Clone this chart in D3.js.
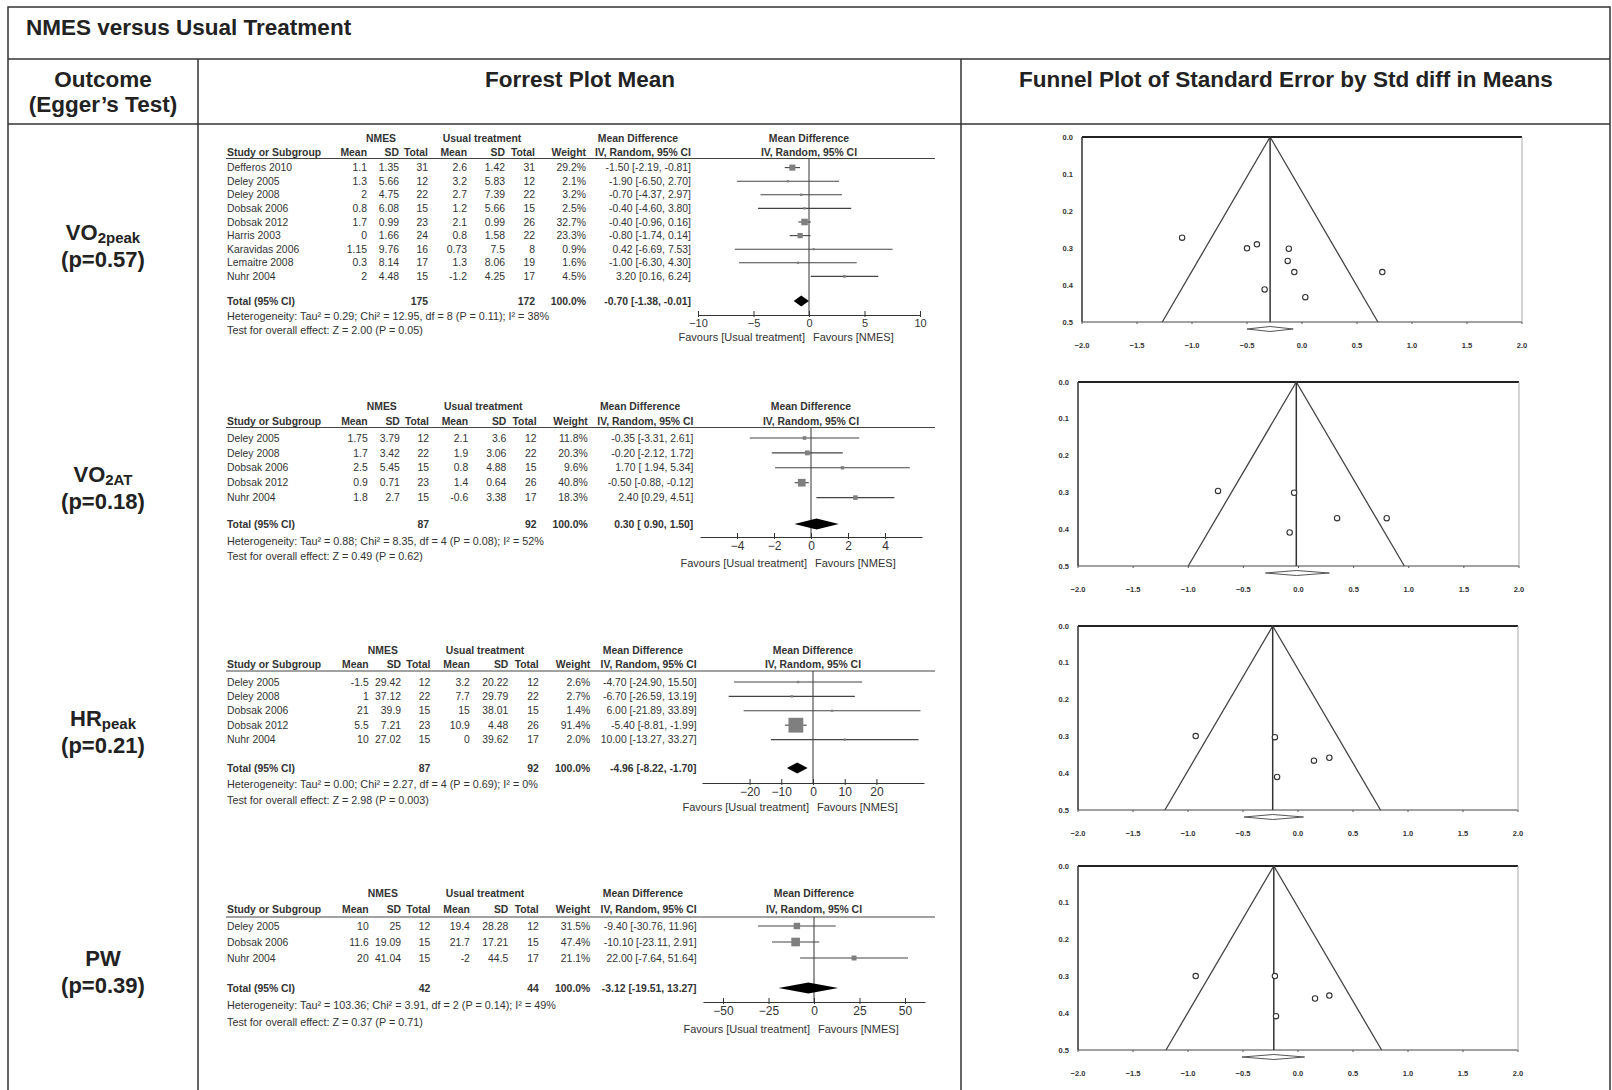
<!DOCTYPE html>
<html>
<head>
<meta charset="utf-8">
<title>NMES versus Usual Treatment</title>
<script src="https://cdn.jsdelivr.net/npm/d3@7"></script>
<style>
  body { margin: 0; background: #fff; }
  svg { display: block; font-family: "Liberation Sans", Arial, sans-serif; }
</style>
</head>
<body>
<div id="chart"></div>
<script>
// ---- values ----

const outcomeNames = ["VO", "VO", "HR", "PW"];
const outcomeSubs = ["2peak", "2AT", "peak", ""];
const eggerLabels = ["(p=0.57)", "(p=0.18)", "(p=0.21)", "(p=0.39)"];

// VO2peak
const vo2peakStudies = ["Defferos 2010", "Deley 2005", "Deley 2008", "Dobsak 2006", "Dobsak 2012", "Harris 2003", "Karavidas 2006", "Lemaitre 2008", "Nuhr 2004"];
// NMES mean, SD, total | usual mean, SD, total
const vo2peakRows = [
  [1.1, 1.35, 31, 2.6, 1.42, 31],
  [1.3, 5.66, 12, 3.2, 5.83, 12],
  [2, 4.75, 22, 2.7, 7.39, 22],
  [0.8, 6.08, 15, 1.2, 5.66, 15],
  [1.7, 0.99, 23, 2.1, 0.99, 26],
  [0, 1.66, 24, 0.8, 1.58, 22],
  [1.15, 9.76, 16, 0.73, 7.5, 8],
  [0.3, 8.14, 17, 1.3, 8.06, 19],
  [2, 4.48, 15, -1.2, 4.25, 17]
];
const vo2peakWeight = [29.2, 2.1, 3.2, 2.5, 32.7, 23.3, 0.9, 1.6, 4.5];
const vo2peakMD = [-1.50, -1.90, -0.70, -0.40, -0.40, -0.80, 0.42, -1.00, 3.20];
const vo2peakLow = [-2.19, -6.50, -4.37, -4.60, -0.96, -1.74, -6.69, -6.30, 0.16];
const vo2peakHigh = [-0.81, 2.70, 2.97, 3.80, 0.16, 0.14, 7.53, 4.30, 6.24];
const vo2peakCI = ["-1.50 [-2.19, -0.81]", "-1.90 [-6.50, 2.70]", "-0.70 [-4.37, 2.97]", "-0.40 [-4.60, 3.80]", "-0.40 [-0.96, 0.16]", "-0.80 [-1.74, 0.14]", "0.42 [-6.69, 7.53]", "-1.00 [-6.30, 4.30]", "3.20 [0.16, 6.24]"];
const vo2peakTotal = [175, 172, -0.70, -1.38, -0.01];
const vo2peakTotalCI = "-0.70 [-1.38, -0.01]";
const vo2peakHet = "Heterogeneity: Tau² = 0.29; Chi² = 12.95, df = 8 (P = 0.11); I² = 38%";
const vo2peakTest = "Test for overall effect: Z = 2.00 (P = 0.05)";
const vo2peakTicks = [-10, -5, 0, 5, 10];

// VO2AT
const vo2atStudies = ["Deley 2005", "Deley 2008", "Dobsak 2006", "Dobsak 2012", "Nuhr 2004"];
const vo2atRows = [
  [1.75, 3.79, 12, 2.1, 3.6, 12],
  [1.7, 3.42, 22, 1.9, 3.06, 22],
  [2.5, 5.45, 15, 0.8, 4.88, 15],
  [0.9, 0.71, 23, 1.4, 0.64, 26],
  [1.8, 2.7, 15, -0.6, 3.38, 17]
];
const vo2atWeight = [11.8, 20.3, 9.6, 40.8, 18.3];
const vo2atMD = [-0.35, -0.20, 1.70, -0.50, 2.40];
const vo2atLow = [-3.31, -2.12, -1.94, -0.88, 0.29];
const vo2atHigh = [2.61, 1.72, 5.34, -0.12, 4.51];
const vo2atCI = ["-0.35 [-3.31, 2.61]", "-0.20 [-2.12, 1.72]", "1.70 [ 1.94, 5.34]", "-0.50 [-0.88, -0.12]", "2.40 [0.29, 4.51]"];
const vo2atTotal = [87, 92, 0.30, -0.90, 1.50];
const vo2atTotalCI = "0.30 [ 0.90, 1.50]";
const vo2atHet = "Heterogeneity: Tau² = 0.88; Chi² = 8.35, df = 4 (P = 0.08); I² = 52%";
const vo2atTest = "Test for overall effect: Z = 0.49 (P = 0.62)";
const vo2atTicks = [-4, -2, 0, 2, 4];

// HRpeak
const hrpeakStudies = ["Deley 2005", "Deley 2008", "Dobsak 2006", "Dobsak 2012", "Nuhr 2004"];
const hrpeakRows = [
  [-1.5, 29.42, 12, 3.2, 20.22, 12],
  [1, 37.12, 22, 7.7, 29.79, 22],
  [21, 39.9, 15, 15, 38.01, 15],
  [5.5, 7.21, 23, 10.9, 4.48, 26],
  [10, 27.02, 15, 0, 39.62, 17]
];
const hrpeakWeight = [2.6, 2.7, 1.4, 91.4, 2.0];
const hrpeakMD = [-4.70, -6.70, 6.00, -5.40, 10.00];
const hrpeakLow = [-24.90, -26.59, -21.89, -8.81, -13.27];
const hrpeakHigh = [15.50, 13.19, 33.89, -1.99, 33.27];
const hrpeakCI = ["-4.70 [-24.90, 15.50]", "-6.70 [-26.59, 13.19]", "6.00 [-21.89, 33.89]", "-5.40 [-8.81, -1.99]", "10.00 [-13.27, 33.27]"];
const hrpeakTotal = [87, 92, -4.96, -8.22, -1.70];
const hrpeakTotalCI = "-4.96 [-8.22, -1.70]";
const hrpeakHet = "Heterogeneity: Tau² = 0.00; Chi² = 2.27, df = 4 (P = 0.69); I² = 0%";
const hrpeakTest = "Test for overall effect: Z = 2.98 (P = 0.003)";
const hrpeakTicks = [-20, -10, 0, 10, 20];

// PW
const pwStudies = ["Deley 2005", "Dobsak 2006", "Nuhr 2004"];
const pwRows = [
  [10, 25, 12, 19.4, 28.28, 12],
  [11.6, 19.09, 15, 21.7, 17.21, 15],
  [20, 41.04, 15, -2, 44.5, 17]
];
const pwWeight = [31.5, 47.4, 21.1];
const pwMD = [-9.40, -10.10, 22.00];
const pwLow = [-30.76, -23.11, -7.64];
const pwHigh = [11.96, 2.91, 51.64];
const pwCI = ["-9.40 [-30.76, 11.96]", "-10.10 [-23.11, 2.91]", "22.00 [-7.64, 51.64]"];
const pwTotal = [42, 44, -3.12, -19.51, 13.27];
const pwTotalCI = "-3.12 [-19.51, 13.27]";
const pwHet = "Heterogeneity: Tau² = 103.36; Chi² = 3.91, df = 2 (P = 0.14); I² = 49%";
const pwTest = "Test for overall effect: Z = 0.37 (P = 0.71)";
const pwTicks = [-50, -25, 0, 25, 50];

// funnel plots: std diff in means, standard error, pooled [estimate, low, high]
const vo2peakSMD = [-1.09, -0.50, -0.41, -0.12, -0.13, -0.07, 0.73, -0.34, 0.03];
const vo2peakSE = [0.272, 0.301, 0.290, 0.302, 0.335, 0.365, 0.365, 0.412, 0.433];
const vo2peakPooled = [-0.29, -0.50, -0.08];
const vo2atSMD = [-0.73, -0.04, 0.35, 0.80, -0.08];
const vo2atSE = [0.296, 0.301, 0.370, 0.370, 0.409];
const vo2atPooled = [-0.02, -0.30, 0.28];
const hrpeakSMD = [-0.93, -0.21, 0.145, 0.285, -0.19];
const hrpeakSE = [0.299, 0.302, 0.366, 0.358, 0.41];
const hrpeakPooled = [-0.23, -0.49, 0.05];
const pwSMD = [-0.93, -0.21, 0.155, 0.285, -0.20];
const pwSE = [0.299, 0.299, 0.36, 0.352, 0.408];
const pwPooled = [-0.22, -0.51, 0.06];

const funnelXTicks = [-2, -1.5, -1, -0.5, 0, 0.5, 1, 1.5, 2];
const funnelYTicks = [0, 0.1, 0.2, 0.3, 0.4, 0.5];

// ---- layout ----
const W = 1612, H = 1090;
const svg = d3.select("#chart").append("svg")
    .attr("width", W)
    .attr("height", H);

const ink = "#222";

// table grid
const grid = svg.append("g").attr("stroke", "#333").attr("stroke-width", 1.5).attr("fill", "none");
grid.append("rect").attr("x", 8).attr("y", 7).attr("width", 1602).attr("height", 1100);
grid.append("line").attr("x1", 8).attr("x2", 1610).attr("y1", 59).attr("y2", 59);
grid.append("line").attr("x1", 8).attr("x2", 1610).attr("y1", 124).attr("y2", 124);
grid.append("line").attr("x1", 198).attr("x2", 198).attr("y1", 59).attr("y2", H);
grid.append("line").attr("x1", 961).attr("x2", 961).attr("y1", 59).attr("y2", H);

function bigText(x, y, str, anchor) {
    return svg.append("text")
        .attr("x", x).attr("y", y)
        .attr("dy", "0.35em")
        .attr("text-anchor", anchor || "middle")
        .style("font-size", "22.5px")
        .style("font-weight", "bold")
        .style("fill", ink)
        .text(str);
}

bigText(26, 27, "NMES versus Usual Treatment", "start");
bigText(103, 79, "Outcome");
bigText(103, 104, "(Egger’s Test)");
bigText(580, 79, "Forrest Plot Mean");
bigText(1286, 79, "Funnel Plot of Standard Error by Std diff in Means");

// outcome labels
const outcomeY = [234, 476, 720, 960];
outcomeNames.forEach((name, i) => {
    const t = bigText(103, outcomeY[i] - 2, null).style("font-size", "22px");
    t.append("tspan").text(name);
    if (outcomeSubs[i]) {
        t.append("tspan")
            .attr("dy", "0.2em")
            .style("font-size", "15px")
            .text(outcomeSubs[i]);
    }
    bigText(103, outcomeY[i] + 25, eggerLabels[i]).style("font-size", "22px");
});

// ---- forest plots ----
const forests = [
    {studies: vo2peakStudies, rows: vo2peakRows, weight: vo2peakWeight, md: vo2peakMD, low: vo2peakLow, high: vo2peakHigh,
     ci: vo2peakCI, total: vo2peakTotal, totalCI: vo2peakTotalCI, het: vo2peakHet, test: vo2peakTest, ticks: vo2peakTicks,
     group: 138, line: 158.5, row0: 167.6, step: 13.6, totalY: 301, hetY: 316.6, testY: 330, axisY: 315, favY: 337,
     tickFont: 11, zero: 809, dom: 10, sx: 1},
    {studies: vo2atStudies, rows: vo2atRows, weight: vo2atWeight, md: vo2atMD, low: vo2atLow, high: vo2atHigh,
     ci: vo2atCI, total: vo2atTotal, totalCI: vo2atTotalCI, het: vo2atHet, test: vo2atTest, ticks: vo2atTicks,
     group: 406, line: 427.5, row0: 438, step: 14.9, totalY: 524, hetY: 541, testY: 556, axisY: 537, favY: 563,
     tickFont: 12, zero: 811, dom: 6, sx: 1.005},
    {studies: hrpeakStudies, rows: hrpeakRows, weight: hrpeakWeight, md: hrpeakMD, low: hrpeakLow, high: hrpeakHigh,
     ci: hrpeakCI, total: hrpeakTotal, totalCI: hrpeakTotalCI, het: hrpeakHet, test: hrpeakTest, ticks: hrpeakTicks,
     group: 650, line: 671, row0: 682, step: 14.4, totalY: 768, hetY: 784, testY: 800, axisY: 783, favY: 807,
     tickFont: 12, zero: 813, dom: 35, sx: 1.012},
    {studies: pwStudies, rows: pwRows, weight: pwWeight, md: pwMD, low: pwLow, high: pwHigh,
     ci: pwCI, total: pwTotal, totalCI: pwTotalCI, het: pwHet, test: pwTest, ticks: pwTicks,
     group: 893, line: 917, row0: 926, step: 16, totalY: 988, hetY: 1005, testY: 1022, axisY: 1002, favY: 1029,
     tickFont: 12, zero: 814, dom: 61, sx: 1.012}
];

// right edges of the numeric columns (NMES mean, SD, total, usual mean, SD, total, weight)
const colRight = [367, 399, 428, 467, 505, 535, 586];
const ciRight = 691;
const colHeads = ["Mean", "SD", "Total", "Mean", "SD", "Total", "Weight"];

const squareSize = d3.scaleLinear().domain([0, 100]).range([2, 16]);

function drawForest(p) {
    const g = svg.append("g").style("font-size", "10.4px").style("fill", "#333");
    const X = v => 227 + (v - 227) * p.sx;
    const x = d3.scaleLinear().domain([-p.dom, p.dom]).range([p.zero - 111, p.zero + 111]);
    const rowY = i => p.row0 + i * p.step;

    function txt(xx, yy, str, anchor, bold) {
        return g.append("text")
            .attr("x", xx).attr("y", yy).attr("dy", "0.35em")
            .attr("text-anchor", anchor)
            .style("font-weight", bold ? "bold" : "normal")
            .text(str);
    }

    const subY = p.group + (p.line - p.group) * 0.7;
    // headers
    txt(X(381), p.group, "NMES", "middle", true);
    txt(X(482), p.group, "Usual treatment", "middle", true);
    txt(X(638), p.group, "Mean Difference", "middle", true);
    txt(p.zero, p.group, "Mean Difference", "middle", true);
    txt(X(227), subY, "Study or Subgroup", "start", true);
    colHeads.forEach((h, j) => txt(X(colRight[j]), subY, h, "end", true));
    txt(X(ciRight), subY, "IV, Random, 95% CI", "end", true);
    txt(p.zero, subY, "IV, Random, 95% CI", "middle", true);

    g.append("line")
        .attr("x1", X(226)).attr("x2", 935)
        .attr("y1", p.line).attr("y2", p.line)
        .attr("stroke", "#444").attr("stroke-width", 1);

    // study rows
    p.studies.forEach((s, i) => {
        const y = rowY(i);
        txt(X(227), y, s, "start", false);
        p.rows[i].forEach((v, j) => txt(X(colRight[j]), y, String(v), "end", false));
        txt(X(colRight[6]), y, d3.format(".1f")(p.weight[i]) + "%", "end", false);
        txt(X(ciRight), y, p.ci[i], "end", false);
    });

    // total row
    txt(X(227), p.totalY, "Total (95% CI)", "start", true);
    txt(X(colRight[2]), p.totalY, p.total[0], "end", true);
    txt(X(colRight[5]), p.totalY, p.total[1], "end", true);
    txt(X(colRight[6]), p.totalY, "100.0%", "end", true);
    txt(X(ciRight), p.totalY, p.totalCI, "end", true);
    txt(X(227), p.hetY, p.het, "start", false).style("font-size", "10.8px");
    txt(X(227), p.testY, p.test, "start", false).style("font-size", "10.8px");

    // zero line
    g.append("line")
        .attr("x1", x(0)).attr("x2", x(0))
        .attr("y1", p.line).attr("y2", p.axisY)
        .attr("stroke", "#333");

    // confidence intervals and weighted squares
    const marks = g.append("g");
    p.studies.forEach((s, i) => {
        const y = rowY(i);
        marks.append("line")
            .attr("x1", x(p.low[i])).attr("x2", x(p.high[i]))
            .attr("y1", y).attr("y2", y)
            .attr("stroke", "#444").attr("stroke-width", 1.1);
        const sz = squareSize(p.weight[i]);
        marks.append("rect")
            .attr("x", x(p.md[i]) - sz / 2).attr("y", y - sz / 2)
            .attr("width", sz).attr("height", sz)
            .attr("fill", "#7f7f7f");
    });

    // pooled diamond
    const t = p.total;
    g.append("path")
        .attr("d", `M${x(t[3])},${p.totalY} L${x(t[2])},${p.totalY - 5.5} L${x(t[4])},${p.totalY} L${x(t[2])},${p.totalY + 5.5} Z`)
        .attr("fill", "#000");

    // axis
    const ax = g.append("g")
        .attr("transform", `translate(0,${p.axisY})`)
        .call(d3.axisBottom(x).tickValues(p.ticks).tickSize(2).tickSizeOuter(0).tickPadding(2));
    ax.select(".domain").attr("stroke", "#333");
    ax.selectAll(".tick line").attr("y1", -4).attr("stroke", "#333");
    ax.selectAll(".tick text")
        .attr("fill", "#333")
        .style("font-size", p.tickFont + "px")
        .style("font-family", "'Liberation Sans', Arial, sans-serif");

    txt(x(0) - 4, p.favY, "Favours [Usual treatment]", "end", false).style("font-size", "11px");
    txt(x(0) + 4, p.favY, "Favours [NMES]", "start", false).style("font-size", "11px");
}

forests.forEach(drawForest);

// ---- funnel plots ----
const funnels = [
    {smd: vo2peakSMD, se: vo2peakSE, pooled: vo2peakPooled, x0: 1082, x1: 1522, y0: 137, y1: 322},
    {smd: vo2atSMD, se: vo2atSE, pooled: vo2atPooled, x0: 1078, x1: 1519, y0: 382, y1: 566},
    {smd: hrpeakSMD, se: hrpeakSE, pooled: hrpeakPooled, x0: 1078, x1: 1518, y0: 626, y1: 810},
    {smd: pwSMD, se: pwSE, pooled: pwPooled, x0: 1078, x1: 1518, y0: 866, y1: 1050}
];

function drawFunnel(f) {
    const g = svg.append("g");
    const x = d3.scaleLinear().domain([-2, 2]).range([f.x0, f.x1]);
    const y = d3.scaleLinear().domain([0, 0.5]).range([f.y0, f.y1]);

    // frame
    g.append("line").attr("x1", f.x0).attr("x2", f.x1).attr("y1", f.y0).attr("y2", f.y0)
        .attr("stroke", "#222").attr("stroke-width", 2);
    g.append("line").attr("x1", f.x0).attr("x2", f.x0).attr("y1", f.y0).attr("y2", f.y1)
        .attr("stroke", "#333").attr("stroke-width", 1.5);
    g.append("line").attr("x1", f.x0).attr("x2", f.x1).attr("y1", f.y1).attr("y2", f.y1)
        .attr("stroke", "#444").attr("stroke-width", 1);
    g.append("line").attr("x1", f.x1).attr("x2", f.x1).attr("y1", f.y0).attr("y2", f.y1)
        .attr("stroke", "#aaa").attr("stroke-width", 1);

    const lab = g.append("g")
        .style("font-size", "7.5px").style("font-weight", "bold").style("fill", "#333");
    funnelYTicks.forEach(v => {
        lab.append("text")
            .attr("x", f.x0 - 9).attr("y", y(v)).attr("dy", "0.35em")
            .attr("text-anchor", "end")
            .text(d3.format(".1f")(v));
    });
    funnelXTicks.forEach(v => {
        lab.append("text")
            .attr("x", x(v)).attr("y", f.y1 + 23).attr("dy", "0.35em")
            .attr("text-anchor", "middle")
            .text(d3.format(".1f")(v));
        g.append("line")
            .attr("x1", x(v)).attr("x2", x(v)).attr("y1", f.y1).attr("y2", f.y1 + 2)
            .attr("stroke", "#555");
    });

    // pseudo 95% limits
    const c = f.pooled[0];
    g.append("path")
        .attr("d", `M${x(c - 1.96 * 0.5)},${y(0.5)} L${x(c)},${y(0)} L${x(c + 1.96 * 0.5)},${y(0.5)}`)
        .attr("fill", "none").attr("stroke", "#444").attr("stroke-width", 1.3);
    g.append("line")
        .attr("x1", x(c)).attr("x2", x(c)).attr("y1", y(0)).attr("y2", y(0.5))
        .attr("stroke", "#333").attr("stroke-width", 1.5);

    g.selectAll("circle")
        .data(f.smd)
        .join("circle")
        .attr("cx", d => x(d))
        .attr("cy", (d, i) => y(f.se[i]))
        .attr("r", 2.7)
        .attr("fill", "#fff")
        .attr("stroke", "#333")
        .attr("stroke-width", 1.1);

    // pooled diamond under the axis
    const dy = f.y1 + 7;
    g.append("path")
        .attr("d", `M${x(f.pooled[1])},${dy} L${x(c)},${dy - 2.5} L${x(f.pooled[2])},${dy} L${x(c)},${dy + 2.5} Z`)
        .attr("fill", "#fff").attr("stroke", "#555").attr("stroke-width", 1);
}

funnels.forEach(drawFunnel);
</script>
</body>
</html>
